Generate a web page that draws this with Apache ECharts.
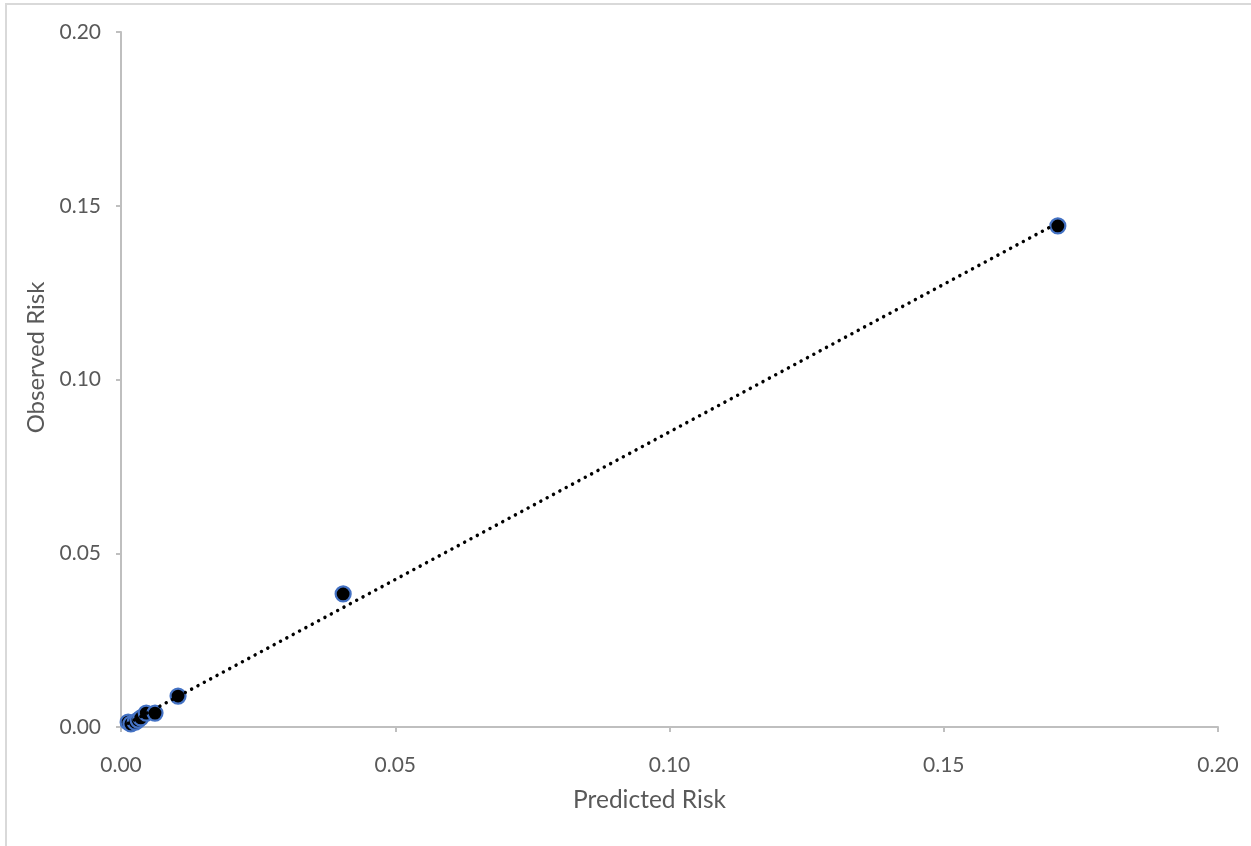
<!DOCTYPE html>
<html>
<head>
<meta charset="utf-8">
<script src="https://cdn.jsdelivr.net/npm/echarts@6/dist/echarts.min.js"></script>
<style>
html,body{margin:0;padding:0;background:#fff;}
#frame{position:absolute;left:5px;top:3px;right:0;bottom:0;border-left:2px solid #d9d9d9;border-top:2px solid #d9d9d9;}
#chart{position:absolute;left:0;top:0;width:1251px;height:846px;}
</style>
</head>
<body>
<div id="frame"></div>
<div id="chart"></div>
<script>
// Data
const predictedRisk = [0.0013, 0.0018, 0.0026, 0.0031, 0.0036, 0.0046, 0.0062, 0.0104, 0.0405, 0.1708];
const observedRisk  = [0.0014, 0.0009, 0.0014, 0.0020, 0.0026, 0.0040, 0.0040, 0.0089, 0.0383, 0.1442];
const tickLabels = ['0.00', '0.05', '0.10', '0.15', '0.20'];

// Linear least-squares trendline from the data
function linearFit(xs, ys) {
  const n = xs.length;
  const mx = xs.reduce((a, b) => a + b, 0) / n;
  const my = ys.reduce((a, b) => a + b, 0) / n;
  let sxy = 0, sxx = 0;
  for (let i = 0; i < n; i++) { sxy += (xs[i] - mx) * (ys[i] - my); sxx += (xs[i] - mx) ** 2; }
  const slope = sxy / sxx;
  return { slope, intercept: my - slope * mx };
}
const fit = linearFit(predictedRisk, observedRisk);
const xMin = Math.min(...predictedRisk), xMax = Math.max(...predictedRisk);
const trendData = [[xMin, fit.intercept + fit.slope * xMin], [xMax, fit.intercept + fit.slope * xMax]];
const points = predictedRisk.map((x, i) => [x, observedRisk[i]]);

const FONT = 'Lato';
const axisCommon = {
  type: 'value', min: 0, max: 0.2, interval: 0.05,
  splitLine: { show: false },
  axisLine: { show: true, lineStyle: { color: '#bfbfbf', width: 2 } },
  axisTick: { show: true, inside: false, length: 5, lineStyle: { color: '#bfbfbf', width: 2 } },
  axisLabel: { color: '#595959', fontFamily: FONT, fontSize: 21,
    formatter: v => tickLabels[Math.round(v / 0.05)] },
  nameLocation: 'middle'
};

const chart = echarts.init(document.getElementById('chart'), null, { renderer: 'canvas' });
chart.setOption({
  animation: false,
  grid: { left: 121, right: 33, top: 32, bottom: 119 },
  xAxis: Object.assign({}, axisCommon, {
    name: 'Predicted Risk', nameGap: 61,
    nameTextStyle: { color: '#595959', fontFamily: FONT, fontSize: 24.5, padding: [0, 40, 0, 0] },
    axisLabel: Object.assign({}, axisCommon.axisLabel, { margin: 28 })
  }),
  yAxis: Object.assign({}, axisCommon, {
    name: 'Observed Risk', nameGap: 69,
    nameTextStyle: { color: '#595959', fontFamily: FONT, fontSize: 24, padding: [0, 0, 0, 44] },
    axisLabel: Object.assign({}, axisCommon.axisLabel, { margin: 20 })
  }),
  series: [
    {
      type: 'line', data: trendData, symbol: 'none', z: 3,
      lineStyle: { color: '#000', width: 3.5, type: [0.01, 7.2], cap: 'round' }
    },
    {
      type: 'scatter', data: points, symbolSize: 15, z: 2,
      itemStyle: { color: '#000', borderColor: '#4472c4', borderWidth: 2.2, opacity: 1 }
    }
  ]
});
</script>
</body>
</html>
